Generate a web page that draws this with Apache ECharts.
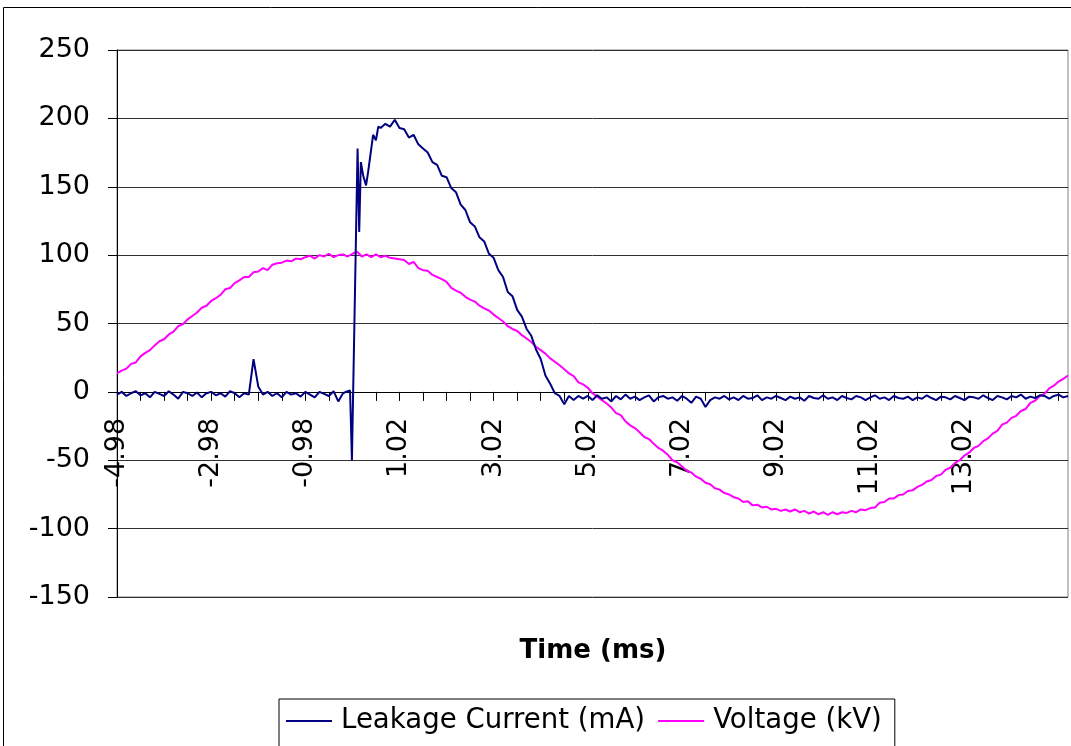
<!DOCTYPE html>
<html>
<head>
<meta charset="utf-8">
<script src="https://cdn.jsdelivr.net/npm/echarts@6/dist/echarts.min.js"></script>
<style>
  html, body { margin: 0; padding: 0; background: #fff; }
  #chart { width: 1071px; height: 746px; }
</style>
</head>
<body>
<div id="chart"></div>
<script>
// Sampling grid: one sample every 0.1 ms starting at -4.98 ms
const timeStart = -4.98;
const timeStep = 0.1;
const timeEnd = 15.22;

// Voltage (kV) on the 0.1 ms grid
const voltageKV = [
  13.5, 15.5, 17, 20.5, 21.5, 26, 28.5, 30.5, 34, 37,
  38.5, 42, 44, 48, 49.5, 53, 55.5, 58, 61.5, 63,
  66.5, 68.5, 71, 75, 76, 79.5, 81.5, 84, 84, 87.5,
  88, 90.5, 89, 93, 94, 94.5, 96, 95.5, 97.5, 97,
  98.5, 99.5, 97.5, 100, 99, 101, 98.5, 100, 100.5, 99,
  101, 102.5, 99, 100.5, 98.5, 100.5, 98.5, 99.5, 98, 97.5,
  97, 96.5, 93.5, 95, 90.5, 89, 88.5, 85.5, 84, 82.5,
  80.5, 76, 74, 72.5, 69.5, 67.5, 66, 63, 61, 59.5,
  56.5, 54, 51.5, 48, 46, 44.5, 41.5, 39, 36.5, 33,
  30.5, 28, 24.5, 22, 19.5, 16.5, 13.5, 11.5, 7, 5.5,
  3, -1, -3.5, -6, -8.5, -11.5, -15.5, -17, -21.5, -24.5,
  -26.5, -29.5, -33, -34.5, -38, -41, -43, -46, -50, -51.5,
  -54.5, -57.5, -59, -62, -63.5, -66.5, -67.5, -70.5, -71.5, -74,
  -75, -77, -78, -80.5, -80, -83, -82.5, -84.5, -84, -86,
  -85.5, -87, -86, -87.5, -86, -88, -87, -89, -87.5, -89.5,
  -88, -90, -88, -89.5, -88, -88.5, -87, -88, -86, -86.5,
  -85, -84.5, -81, -80.5, -78, -78, -75.5, -75, -72.5, -72,
  -69.5, -68, -65.5, -64.5, -61.5, -60.5, -57, -55.5, -52, -50,
  -46.5, -44.5, -41, -39.5, -36, -34, -30.5, -28.5, -24, -22.5,
  -19, -17.5, -14, -12.5, -8, -6.5, -3, -1.5, 2.5, 4.5,
  7.5, 9.5, 12
];

// Leakage current (mA) on the 0.1 ms grid; null where the fast burst table below applies
const currentMA = [
  -2, 0, -3, -1, 0.5, -2.5, -1, -4, 0, -1.5,
  -3, 0.5, -2, -5, 0, -1, -3, -0.5, -4, -1,
  0, -2.5, -1, -3.5, 0.5, -1, -4, -1, -2, 24,
  4, -2, 0, -3, -1, -4, 0, -2, -1, -3.5,
  0, -2, -4, 0, -1.5, -3, 0.5, -7, -1, 0.5,
  null, null, null, null, null, null, 193, 196, 194, 199,
  193, 192, 186, 188, 181, 178, 175, 168, 166, 158,
  157, 149, 146, 137, 133, 124, 121, 113, 110, 101,
  98, 89, 84, 73, 70, 60, 55, 46, 41, 31,
  24, 12, 6, -1, -3, -9, -3, -6, -3, -5,
  -3, -6, -2.5, -5, -4, -7, -3, -5.5, -2, -5,
  -3.5, -6, -4, -2.5, -7, -4, -3, -5, -4, -6.5,
  -3, -5, -8, -3.5, -5, -11, -6, -4, -5, -3,
  -5.5, -4, -6, -3, -5, -4.5, -2.5, -6, -4, -5,
  -3, -4.5, -6, -3.5, -5, -4, -6.5, -3, -4.5, -5,
  -2.5, -5, -4, -6, -3, -4.5, -5.5, -3, -4, -6,
  -4, -2.5, -5, -4, -6, -3, -4.5, -5, -3.5, -6,
  -4, -5, -2.5, -4.5, -6, -3.5, -4, -5.5, -3, -4.5,
  -6, -3.5, -4, -5, -2.5, -4.5, -6, -3, -4, -5.5,
  -3, -4, -2, -5, -3.5, -4.5, -2.5, -3, -5, -3,
  -2, -4, -3
];

// Fast burst around flashover onset (irregular sample times, ms / mA)
const burstTimes = [-0.03, 0.01, 0.13, 0.165, 0.2, 0.25, 0.31, 0.355, 0.39, 0.46, 0.52, 0.57];
const burstMA    = [1, -50, 178, 117, 168, 158, 151, 161, 160, 188, 184, 194];

// Axis labelling
const timeLabels = [-4.98, -2.98, -0.98, 1.02, 3.02, 5.02, 7.02, 9.02, 11.02, 13.02];
const timeTicks = [];
for (let k = 0; k <= 40; k++) timeTicks.push(+(timeStart + 0.5 * k).toFixed(2));
const seriesNames = ['Leakage Current (mA)', 'Voltage (kV)'];
const axisTitle = 'Time (ms)';

const gridTime = voltageKV.map((_, i) => +(timeStart + i * timeStep).toFixed(2));
const voltageData = voltageKV.map((v, i) => [gridTime[i], v]);
const currentData = currentMA
  .map((v, i) => [gridTime[i], v])
  .filter(p => p[1] !== null)
  .concat(burstTimes.map((t, i) => [t, burstMA[i]]))
  .sort((a, b) => a[0] - b[0]);

const FONT = '"DejaVu Sans", sans-serif';

// Plot box and value range of the vertical axis
const plot = { left: 117, right: 3, top: 50, bottom: 149 };
const yMin = -150, yMax = 250;
const plotHeight = 746 - plot.top - plot.bottom;
// Time axis sits on the zero line: shift it up from the bottom of the plot box
const zeroOffset = -plotHeight * (0 - yMin) / (yMax - yMin);

const chart = echarts.init(document.getElementById('chart'), null, { renderer: 'canvas' });
chart.setOption({
  animation: false,
  backgroundColor: '#ffffff',
  grid: {
    left: plot.left, right: plot.right, top: plot.top, bottom: plot.bottom,
    show: true, borderColor: '#808080', borderWidth: 1
  },
  xAxis: {
    type: 'value',
    min: timeStart,
    max: timeEnd,
    offset: zeroOffset,
    axisLine: { show: true, onZero: false, lineStyle: { color: '#000', width: 1 } },
    axisTick: { show: true, length: 9, inside: false, customValues: timeTicks, lineStyle: { color: '#000' } },
    axisLabel: {
      customValues: timeLabels,
      rotate: 90,
      margin: 26,
      fontSize: 27,
      fontFamily: FONT,
      color: '#000',
      formatter: v => v.toFixed(2)
    },
    splitLine: { show: false }
  },
  yAxis: {
    type: 'value',
    min: yMin,
    max: yMax,
    interval: 50,
    axisLine: { show: true, onZero: false, lineStyle: { color: '#000', width: 1 } },
    axisTick: { show: true, length: 9, lineStyle: { color: '#000' } },
    axisLabel: { margin: 27, fontSize: 27, fontFamily: FONT, color: '#000' },
    splitLine: { show: true, lineStyle: { color: '#303030', width: 1 } }
  },
  legend: {
    left: 279,
    top: 699,
    padding: [8, 13, 24, 7],
    itemGap: 13,
    itemWidth: 46,
    itemHeight: 2,
    icon: 'rect',
    borderColor: '#000',
    borderWidth: 1,
    backgroundColor: '#fff',
    textStyle: { fontSize: 27.6, fontFamily: FONT, color: '#000', padding: [0, 0, 0, 4] },
    data: seriesNames
  },
  graphic: [
    {
      type: 'rect',
      silent: true,
      shape: { x: 3.5, y: 7.5, width: 1100, height: 800 },
      style: { fill: 'none', stroke: '#000', lineWidth: 1 },
      z: -10
    },
    {
      type: 'text',
      x: 593,
      y: 651,
      style: {
        text: axisTitle,
        textAlign: 'center',
        textVerticalAlign: 'middle',
        fontSize: 26,
        fontWeight: 'bold',
        fontFamily: FONT,
        fill: '#000'
      }
    }
  ],
  series: [
    {
      name: seriesNames[0],
      type: 'line',
      data: currentData,
      symbol: 'none',
      showSymbol: false,
      lineStyle: { color: '#000080', width: 2 },
      itemStyle: { color: '#000080' },
      z: 3
    },
    {
      name: seriesNames[1],
      type: 'line',
      data: voltageData,
      symbol: 'none',
      showSymbol: false,
      lineStyle: { color: '#FF00FF', width: 2 },
      itemStyle: { color: '#FF00FF' },
      z: 2
    }
  ]
});
</script>
</body>
</html>
